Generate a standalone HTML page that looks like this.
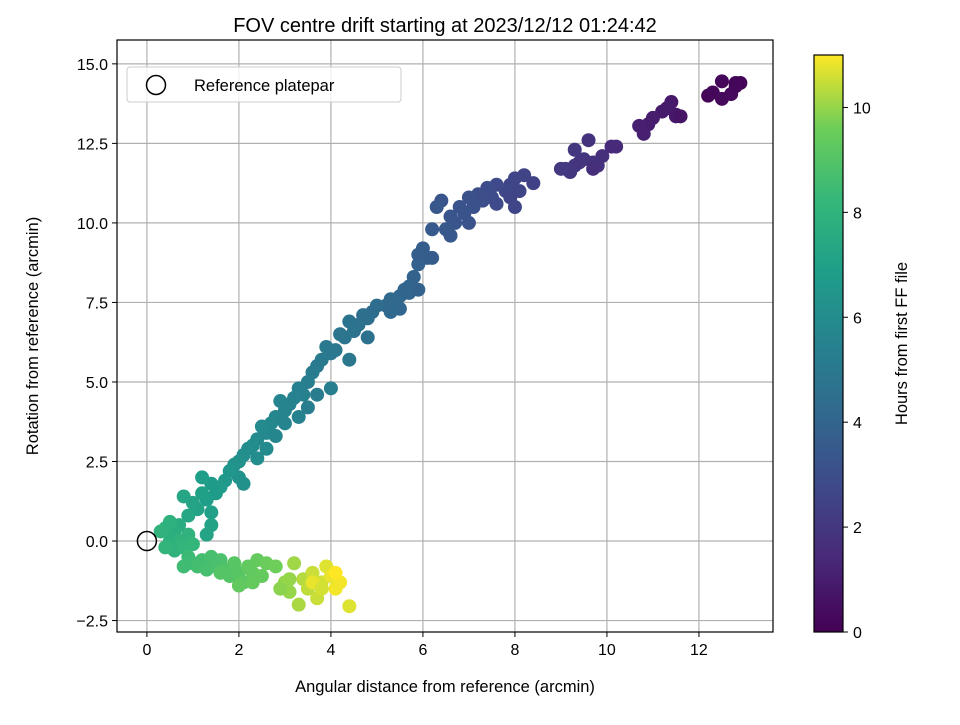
<!DOCTYPE html>
<html><head><meta charset="utf-8"><style>body{margin:0;background:#fff}svg{font-family:"Liberation Sans","DejaVu Sans",sans-serif}</style></head>
<body>
<svg id="c" width="960" height="720"></svg>
<script>
const xs=[12.2,12.3,12.5,12.5,12.8,12.9,12.7,12.8,11.5,11.4,11.3,11.2,11.0,10.9,10.8,10.7,11.5,11.6,10.2,10.1,9.9,9.7,9.6,9.5,9.3,9.2,9.1,9.3,9.8,9.4,9.7,9.0,8.4,8.2,8.0,7.9,7.8,7.6,7.5,7.4,7.3,7.2,7.1,7.0,6.9,6.8,6.7,6.6,6.5,6.4,6.3,6.2,6.6,7.0,8.1,7.9,8.0,7.6,6.0,6.1,5.9,5.8,5.7,5.6,5.5,5.4,5.3,5.2,5.0,4.9,4.8,4.7,4.6,4.5,4.4,4.3,4.2,4.1,4.0,3.9,3.8,3.7,3.6,4.4,4.0,5.7,5.5,5.9,6.2,5.9,5.3,4.8,3.5,3.4,3.3,3.2,3.1,3.0,2.9,2.8,2.7,2.6,2.5,2.4,2.3,2.2,2.1,2.0,1.9,2.0,3.0,3.5,3.7,2.6,2.4,2.1,3.3,2.8,1.8,1.7,1.6,1.5,1.4,1.3,1.2,1.1,1.0,0.9,0.8,1.2,1.4,1.4,1.3,0.7,0.6,0.5,0.4,0.6,0.7,0.8,0.9,1.0,0.5,0.3,0.4,0.9,1.0,1.1,1.2,1.3,1.4,1.5,1.6,1.7,1.8,1.9,2.0,2.1,2.2,2.3,2.4,2.5,2.6,2.8,2.0,2.3,1.6,0.8,3.0,3.1,3.2,3.3,3.4,3.5,3.6,3.7,3.8,3.9,4.0,4.1,4.2,4.1,3.6,4.4,2.9,3.1,3.8];
const ys=[14.0,14.1,13.9,14.45,14.4,14.4,14.05,14.3,13.4,13.8,13.6,13.5,13.3,13.1,12.8,13.05,13.35,13.35,12.4,12.4,12.1,11.9,12.6,12.0,12.3,11.6,11.7,11.8,11.8,11.9,11.7,11.7,11.25,11.5,11.4,11.2,11.0,11.2,10.8,11.1,10.7,10.9,10.5,10.8,10.3,10.5,10.0,10.2,9.8,10.7,10.5,9.8,9.6,10.0,11.0,10.8,10.5,10.6,9.2,8.9,8.7,8.3,8.0,7.9,7.7,7.5,7.6,7.4,7.4,7.2,7.0,7.1,6.8,6.6,6.9,6.4,6.5,6.0,5.9,6.1,5.7,5.5,5.3,5.7,4.8,7.8,7.3,7.9,8.9,9.0,7.2,6.4,5.0,4.6,4.8,4.5,4.3,4.1,4.4,3.9,3.7,3.4,3.6,3.2,3.0,2.9,2.7,2.5,2.4,2.0,3.7,4.2,4.6,2.9,2.6,1.8,3.9,3.3,2.2,1.9,1.7,1.5,1.8,1.3,1.5,1.0,1.2,0.8,1.4,2.0,0.9,0.5,0.2,0.5,0.3,0.0,0.4,-0.3,0.0,-0.2,0.2,-0.1,0.6,0.3,-0.2,-0.5,-0.7,-0.8,-0.6,-0.9,-0.5,-0.8,-0.6,-0.9,-1.1,-0.7,-1.0,-1.3,-0.8,-1.0,-0.6,-1.1,-0.7,-0.8,-1.4,-1.3,-1.0,-0.8,-1.3,-1.6,-0.7,-2.0,-1.2,-1.5,-1.0,-1.8,-1.3,-0.8,-1.1,-1.5,-1.3,-1.0,-1.3,-2.05,-1.5,-1.2,-1.5];
const ts=[0.1,0.2,0.3,0.2,0.1,0.1,0.3,0.2,0.8,0.8,0.9,0.9,1.0,1.0,1.1,1.1,0.8,0.7,1.5,1.5,1.7,1.8,1.8,1.9,2.0,2.0,2.0,2.0,1.8,1.9,1.7,2.1,2.4,2.5,2.6,2.6,2.7,2.8,2.9,2.9,3.0,3.0,3.1,3.1,3.2,3.2,3.3,3.3,3.4,3.3,3.4,3.5,3.4,3.2,2.6,2.6,2.6,2.8,3.7,3.7,3.8,3.9,4.0,4.0,4.1,4.2,4.2,4.3,4.4,4.4,4.5,4.5,4.6,4.7,4.7,4.8,4.8,4.9,5.0,5.0,5.1,5.1,5.2,4.9,5.3,4.0,4.1,3.9,3.6,3.7,4.2,4.6,5.3,5.4,5.4,5.5,5.5,5.6,5.6,5.7,5.8,5.8,5.9,5.9,6.0,6.0,6.1,6.2,6.3,6.3,5.6,5.3,5.2,5.9,6.0,6.2,5.5,5.7,6.5,6.6,6.7,6.8,6.8,6.9,7.0,7.1,7.2,7.3,7.3,6.9,7.0,7.1,7.2,7.6,7.7,7.8,7.9,8.0,8.0,8.1,8.0,8.2,7.9,8.0,8.1,8.4,8.5,8.6,8.6,8.7,8.7,8.8,8.8,8.9,9.0,9.1,9.1,9.2,9.3,9.3,9.4,9.4,9.5,9.6,9.3,9.4,9.0,8.5,10.0,10.0,10.1,10.2,10.3,10.4,10.5,10.5,10.6,10.7,10.8,10.9,10.9,11.0,10.8,10.7,9.9,10.0,10.6];
const xTicks=[0,2,4,6,8,10,12];
const yTicks=[-2.5,0,2.5,5,7.5,10,12.5,15];
const yTickLabels=["−2.5","0.0","2.5","5.0","7.5","10.0","12.5","15.0"];
const cTicks=[0,2,4,6,8,10];
const NS="http://www.w3.org/2000/svg",svg=document.getElementById('c');
const L=117,R=773,T=40,B=632,X0=-0.65,X1=13.61,Y0=-2.86,Y1=15.75,VMAX=11;
const sx=v=>L+(v-X0)/(X1-X0)*(R-L), sy=v=>B-(v-Y0)/(Y1-Y0)*(B-T);
const vir=["#440154","#482878","#3e4989","#31688e","#26828e","#1f9e89","#35b779","#6ece58","#fde725"];
function hex(h){return[1,3,5].map(i=>parseInt(h.substr(i,2),16));}
function cmap(v){let f=Math.max(0,Math.min(1,v/VMAX))*8,i=Math.min(7,Math.floor(f)),r=f-i,a=hex(vir[i]),b=hex(vir[i+1]);return`rgb(${a.map((c,k)=>Math.round(c+(b[k]-c)*r)).join(',')})`;}
function el(t,at,p){const e=document.createElementNS(NS,t);for(const k in at)e.setAttribute(k,at[k]);(p||svg).appendChild(e);return e;}
function txt(s,at,p){const e=el('text',at,p);e.textContent=s;return e;}
const g=el('g',{});
xTicks.forEach(v=>{el('line',{x1:sx(v),x2:sx(v),y1:T,y2:B,stroke:'#b0b0b0','stroke-width':1.2},g);});
yTicks.forEach(v=>{el('line',{x1:L,x2:R,y1:sy(v),y2:sy(v),stroke:'#b0b0b0','stroke-width':1.2},g);});
const pts=el('g',{});
for(let i=0;i<xs.length;i++){const c=el('circle',{cx:sx(xs[i]),cy:sy(ys[i]),r:7,fill:cmap(ts[i])},pts);}
const rc=el('circle',{cx:sx(0),cy:sy(0),r:9.5,fill:'none',stroke:'#000','stroke-width':1.5});
const fr=el('rect',{x:L,y:T,width:R-L,height:B-T,fill:'none',stroke:'#000','stroke-width':1.2});
xTicks.forEach(v=>{el('line',{x1:sx(v),x2:sx(v),y1:B,y2:B+5,stroke:'#000'});const t=txt(String(v),{x:sx(v),y:B+23,'font-size':16,'text-anchor':'middle'});});
yTicks.forEach((v,i)=>{el('line',{x1:L-5,x2:L,y1:sy(v),y2:sy(v),stroke:'#000'});const t=txt(yTickLabels[i],{x:L-9,y:sy(v)+6,'font-size':16,'text-anchor':'end'});});
const xt=txt('Angular distance from reference (arcmin)',{x:(L+R)/2,y:692,'font-size':16.5,'text-anchor':'middle'});
const yt=txt('Rotation from reference (arcmin)',{x:0,y:0,'font-size':16.5,'text-anchor':'middle',transform:`translate(38,${(T+B)/2}) rotate(-90)`});
const tt=txt('FOV centre drift starting at 2023/12/12 01:24:42',{x:(L+R)/2,y:32,'font-size':20,'text-anchor':'middle'});
// legend
const lg=el('g',{});
el('rect',{x:127,y:67,width:274,height:35,rx:3,fill:'#fff','fill-opacity':0.8,stroke:'#ccc'},lg);
el('circle',{cx:156,cy:85,r:9.5,fill:'none',stroke:'#000','stroke-width':1.5},lg);
txt('Reference platepar',{x:194,y:91,'font-size':16.5},lg);
// colorbar
const CL=814,CR=843,CT=55,CB=632;
const defs=el('defs',{});const lgd=el('linearGradient',{id:'vg',x1:0,y1:1,x2:0,y2:0},defs);
vir.forEach((c,i)=>el('stop',{offset:i/8,'stop-color':c},lgd));
const cb=el('rect',{x:CL,y:CT,width:CR-CL,height:CB-CT,fill:'url(#vg)',stroke:'#000','stroke-width':1.2});
cTicks.forEach(v=>{const y=CB-v/VMAX*(CB-CT);el('line',{x1:CR,x2:CR+5,y1:y,y2:y,stroke:'#000'});const t=txt(String(v),{x:CR+10,y:y+6,'font-size':16});});
const ct=txt('Hours from first FF file',{x:0,y:0,'font-size':16.5,'text-anchor':'middle',transform:`translate(907,${(CT+CB)/2}) rotate(-90)`});
</script>
</body></html>
